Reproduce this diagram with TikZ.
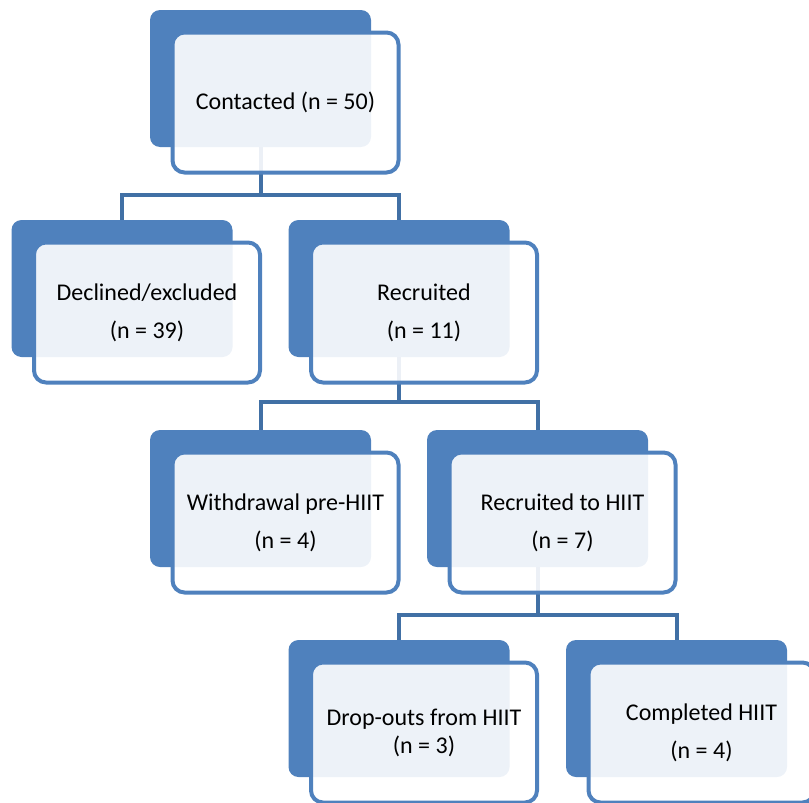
\documentclass[tikz,border=0pt]{standalone}
\usepackage{fontspec}
\setmainfont{Carlito}
\usepackage{xcolor}
\usepackage{tikz}
\usetikzlibrary{positioning,calc}

\definecolor{boxblue}{RGB}{79,129,189}
\definecolor{linkblue}{RGB}{65,112,165}

\begin{document}
\begin{tikzpicture}[
    x=1pt, y=-1pt,
    back/.style={rectangle, fill=boxblue, rounded corners=10pt, minimum width=221pt, minimum height=137pt, inner sep=0pt},
    front/.style={rectangle, draw=boxblue, line width=4pt, fill=white, fill opacity=0.9, text opacity=1, rounded corners=12pt, minimum width=226pt, minimum height=140pt, inner sep=0pt, align=center, font=\fontsize{24}{38}\selectfont, xshift=25pt, yshift=-24pt},
    link/.style={draw=linkblue, line width=4pt}
]
\useasboundingbox (0,0) rectangle (809,803);

% Back panels
\node[back] (contacted-b) at (260.5,78.5) {};
\node[back] (declined-b) at (122,288.5) {};
\node[back] (recruited-b) at (399,288.5) {};
\node[back] (withdrawal-b) at (260.5,498.5) {};
\node[back] (hiit-b) at (537.5,498.5) {};
\node[back] (dropouts-b) at (399,708.5) {};
\node[back] (completed-b) at (676.5,708.5) {};

% Connections
\draw[link] (contacted-b.south) -- ++(0,48) -| (declined-b.north);
\draw[link] (contacted-b.south) -- ++(0,48) -| (recruited-b.north);
\draw[link] (recruited-b.south) -- ++(0,45) -| (withdrawal-b.north);
\draw[link] (recruited-b.south) -- ++(0,45) -| (hiit-b.north);
\draw[link] (hiit-b.south) -- ++(0,48) -| (dropouts-b.north);
\draw[link] (hiit-b.south) -- ++(0,48) -| (completed-b.north);

% Front boxes
\node[front] (contacted) at (contacted-b) {Contacted (n = 50)};
\node[front] (declined) at (declined-b) {Declined/excluded\\(n = 39)};
\node[front] (recruited) at (recruited-b) {Recruited\\(n = 11)};
\node[front] (withdrawal) at (withdrawal-b) {Withdrawal pre-HIIT\\(n = 4)};
\node[front] (hiit) at (hiit-b) {Recruited to HIIT\\(n = 7)};
\node[front, font=\fontsize{24}{28}\selectfont] (dropouts) at (dropouts-b) {Drop-outs from HIIT\\(n = 3)};
\node[front] (completed) at (completed-b) {Completed HIIT\\(n = 4)};

\end{tikzpicture}
\end{document}
